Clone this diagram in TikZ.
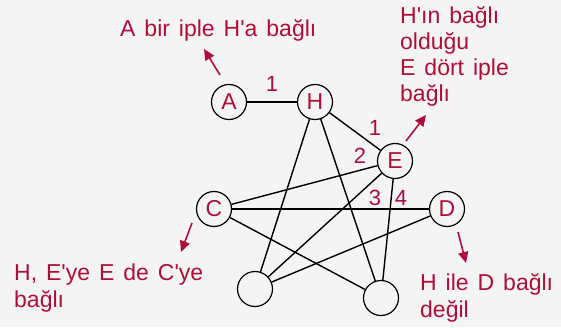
\documentclass[tikz,border=0pt]{standalone}
\usepackage{fontspec}
\setmainfont{Liberation Sans}
\newfontfamily\notefont{Liberation Sans}[WordSpace=1.4]
\usetikzlibrary{positioning,arrows.meta}
\definecolor{notered}{RGB}{176,14,58}
\definecolor{bggray}{RGB}{244,244,244}
\newcommand{\apos}{\textquotesingle}

\begin{document}
\begin{tikzpicture}[
    x=1pt, y=1pt,
    knot/.style={draw, circle, line width=1.2pt, minimum size=35pt, inner sep=0pt,
        text=notered, font=\fontsize{23}{27}\selectfont},
    rope/.style={line width=1.4pt},
    num/.style={text=notered, inner sep=0pt, font=\fontsize{22}{26}\selectfont},
    note/.style={text=notered, align=left, inner sep=0pt, anchor=base west,
        font=\notefont\fontsize{23}{26.3}\selectfont},
    pointer/.style={-{Triangle[length=11pt,width=10pt]}, notered, line width=1.6pt}
]
\fill[bggray] (0,0) rectangle (561,327);
\useasboundingbox (0,0) rectangle (561,327);

% knots
\node[knot] (A) at (229,225) {A};
\node[knot] (H) at (315,225) {H};
\node[knot] (E) at (395,166) {E};
\node[knot] (C) at (214,118) {C};
\node[knot] (D) at (447,118) {D};
\node[knot] (BL) at (255,38) {};
\node[knot] (BR) at (381,29) {};

% ropes
\draw[rope] (A) -- (H);
\draw[rope] (H) -- (E);
\draw[rope] (H) -- (BL);
\draw[rope] (H) -- (BR);
\draw[rope] (E) -- (C);
\draw[rope] (E) -- (BL);
\draw[rope] (E) -- (BR);
\draw[rope] (C) -- (D);
\draw[rope] (C) -- (BR);
\draw[rope] (D) -- (BL);

% rope counts
\node[num] (nAH) at (272,243) {1};
\node[num] (nE1) at (375,199) {1};
\node[num] (nE2) at (360,171) {2};
\node[num] (nE3) at (375,129) {3};
\node[num] (nE4) at (401,129) {4};

% notes (base = last line)
\node[note] (noteA) at (120,290) {A bir iple H\apos a bağlı};
\node[note] (noteE) at (400,225) {H\apos ın bağlı\\olduğu\\E dört iple\\bağlı};
\node[note] (noteC) at (14,20) {H, E\apos ye E de C\apos ye\\bağlı};
\node[note] (noteD) at (420,10) {H ile D bağlı\\değil};

\coordinate (pA1) at (220,252);
\coordinate (pA2) at (204,278);
\coordinate (pE1) at (406,186);
\coordinate (pE2) at (426,212);
\coordinate (pC1) at (192,104);
\coordinate (pC2) at (181,75);
\coordinate (pD1) at (458,95);
\coordinate (pD2) at (466,64);

\draw[pointer] (pA1) -- (pA2);
\draw[pointer] (pE1) -- (pE2);
\draw[pointer] (pC1) -- (pC2);
\draw[pointer] (pD1) -- (pD2);
\end{tikzpicture}
\end{document}
